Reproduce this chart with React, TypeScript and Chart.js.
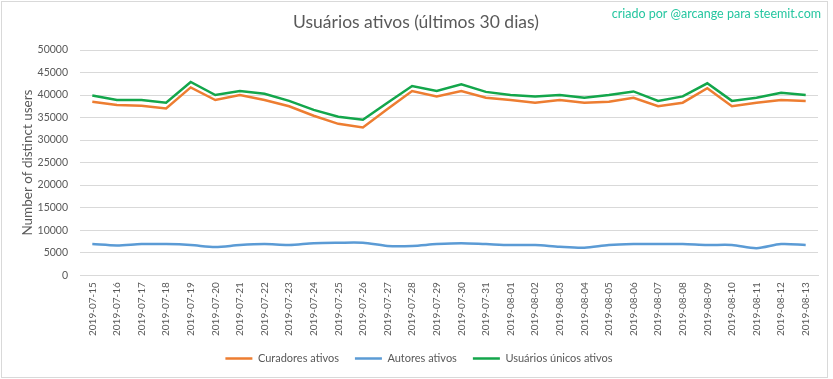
import React, { useEffect, useRef } from "react";
import { Chart, registerables } from "chart.js";

Chart.register(...registerables);

const dates = [
  "2019-07-15", "2019-07-16", "2019-07-17", "2019-07-18", "2019-07-19", "2019-07-20",
  "2019-07-21", "2019-07-22", "2019-07-23", "2019-07-24", "2019-07-25", "2019-07-26",
  "2019-07-27", "2019-07-28", "2019-07-29", "2019-07-30", "2019-07-31", "2019-08-01",
  "2019-08-02", "2019-08-03", "2019-08-04", "2019-08-05", "2019-08-06", "2019-08-07",
  "2019-08-08", "2019-08-09", "2019-08-10", "2019-08-11", "2019-08-12", "2019-08-13",
];

const curadores = [
  38500, 37800, 37600, 37000, 41700, 38900, 40000, 38900, 37500, 35400,
  33600, 32800, 36900, 40900, 39700, 40900, 39400, 38900, 38300, 38900,
  38300, 38500, 39400, 37500, 38300, 41500, 37500, 38300, 38900, 38700,
];

const autores = [
  6900, 6600, 6900, 6900, 6700, 6250, 6700, 6900, 6700, 7100,
  7200, 7200, 6500, 6500, 6900, 7100, 6900, 6700, 6700, 6300,
  6100, 6700, 6900, 6900, 6900, 6700, 6700, 6000, 6900, 6700,
];

const unicos = [
  39900, 38900, 38900, 38300, 42900, 40000, 40900, 40300, 38700, 36700,
  35200, 34500, 38300, 42000, 40900, 42400, 40700, 40000, 39700, 40000,
  39400, 40000, 40800, 38700, 39700, 42600, 38700, 39400, 40500, 40000,
];

const yTicks = [0, 5000, 10000, 15000, 20000, 25000, 30000, 35000, 40000, 45000, 50000];

const TITLE = "Usuários ativos (últimos 30 dias)";
const WATERMARK = "criado por @arcange para steemit.com";
const Y_TITLE = "Number of distinct users";
const FONT = "Lato, 'Open Sans', sans-serif";
const TEXT = "#595959";
const GRID = "#D9D9D9";

const decor = {
  id: "decor",
  beforeDraw(chart: any) {
    const ctx = chart.ctx;
    ctx.save();
    ctx.fillStyle = "#ffffff";
    ctx.fillRect(0, 0, chart.width, chart.height);
    ctx.strokeStyle = "#D9D9D9";
    ctx.lineWidth = 1;
    ctx.strokeRect(1.5, 1.5, 826, 376);
    ctx.restore();
  },
  afterDraw(chart: any) {
    const ctx = chart.ctx;
    ctx.save();
    ctx.fillStyle = TEXT;
    ctx.font = `17.5px ${FONT}`;
    ctx.textAlign = "center";
    ctx.textBaseline = "middle";
    ctx.fillText(TITLE, 416, 22);
    ctx.fillStyle = "#26C6A0";
    ctx.font = `12.5px ${FONT}`;
    ctx.textAlign = "right";
    ctx.fillText(WATERMARK, 821, 14);
    ctx.restore();
  },
};

export default function App() {
  const ref = useRef<HTMLCanvasElement | null>(null);

  useEffect(() => {
    document.body.style.margin = "0";
    if (!ref.current) return;
    const chart = new Chart(ref.current, {
      type: "line",
      data: {
        labels: dates,
        datasets: [
          {
            label: "Curadores ativos",
            data: curadores,
            borderColor: "#ED7D31",
            backgroundColor: "#ED7D31",
            borderWidth: 2.5,
            pointRadius: 0,
            tension: 0,
          },
          {
            label: "Autores ativos",
            data: autores,
            borderColor: "#5B9BD5",
            backgroundColor: "#5B9BD5",
            borderWidth: 2.5,
            pointRadius: 0,
            tension: 0.3,
          },
          {
            label: "Usuários únicos ativos",
            data: unicos,
            borderColor: "#13A64B",
            backgroundColor: "#13A64B",
            borderWidth: 2.5,
            pointRadius: 0,
            tension: 0,
          },
        ],
      },
      options: {
        animation: false,
        responsive: false,
        maintainAspectRatio: false,
        layout: { padding: { top: 50, right: 15, bottom: 5, left: 20 } },
        plugins: {
          title: { display: false },
          tooltip: { enabled: false },
          legend: {
            position: "bottom",
            labels: {
              usePointStyle: true,
              pointStyle: "line",
              pointStyleWidth: 27,
              color: TEXT,
              font: { family: FONT, size: 11 },
              padding: 16,
            },
          },
        },
        scales: {
          x: {
            offset: true,
            grid: { display: false, drawTicks: false },
            border: { color: GRID },
            afterFit(scale: any) {
              scale.height = scale.height - 6;
            },
            ticks: {
              autoSkip: false,
              maxRotation: 90,
              minRotation: 90,
              color: TEXT,
              padding: 7,
              font: { family: FONT, size: 10 },
            },
          },
          y: {
            min: 0,
            max: 50000,
            afterBuildTicks(scale: any) {
              scale.ticks = yTicks.map((v) => ({ value: v }));
            },
            afterFit(scale: any) {
              scale.width = 60;
            },
            grid: { color: GRID, drawTicks: false },
            border: { display: false },
            title: {
              display: true,
              text: Y_TITLE,
              color: TEXT,
              font: { family: FONT, size: 13.5 },
              padding: { top: 0, bottom: 2 },
            },
            ticks: {
              color: TEXT,
              padding: 12,
              font: { family: FONT, size: 10.5 },
              callback: (v: any) => String(v),
            },
          },
        },
      },
      plugins: [decor],
    });
    return () => chart.destroy();
  }, []);

  return (
    <div style={{ width: 833, height: 379 }}>
      <canvas ref={ref} width={833} height={379} style={{ display: "block" }} />
    </div>
  );
}
